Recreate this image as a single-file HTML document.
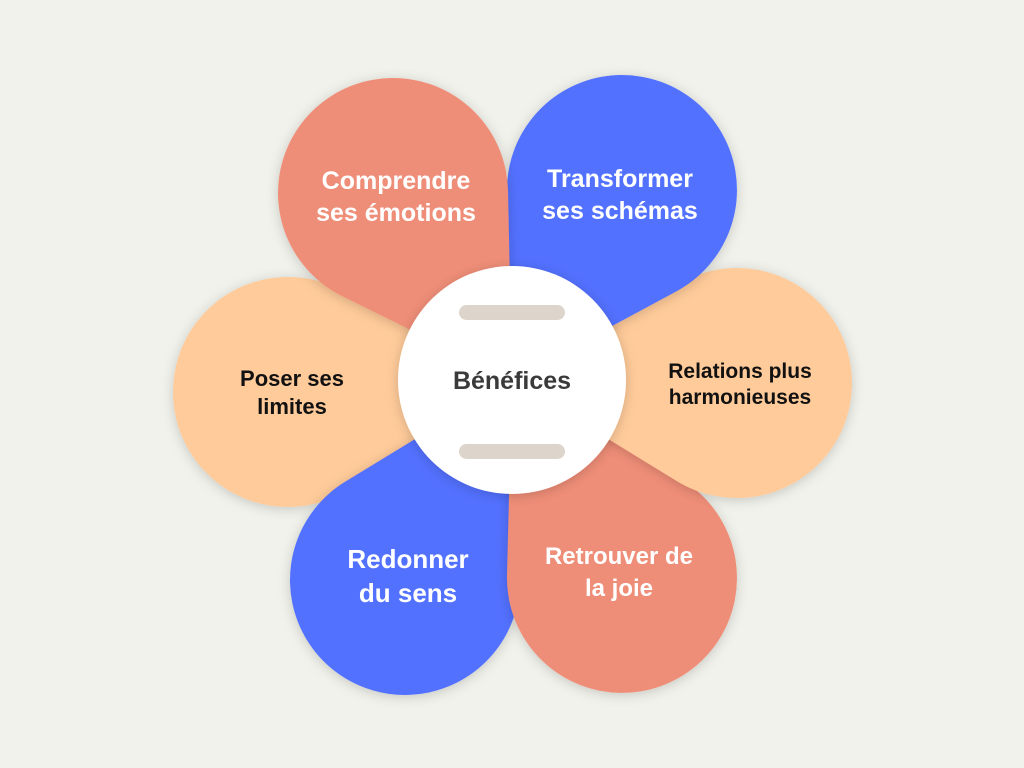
<!DOCTYPE html>
<html><head><meta charset="utf-8"><style>
html,body{margin:0;padding:0;background:#F2F2EC;}
svg{display:block}
</style></head><body>
<svg id="s" width="1024" height="768" viewBox="0 0 1024 768" xmlns="http://www.w3.org/2000/svg">
<defs><filter id="sh" x="-30%" y="-30%" width="160%" height="160%"><feDropShadow dx="0" dy="2" stdDeviation="6" flood-color="#000" flood-opacity="0.18"/></filter></defs>
<g id="petals"></g>
<circle cx="512" cy="380" r="114" fill="#fff" filter="url(#sh)"/>
<rect x="459" y="305" width="106" height="15" rx="7.5" fill="#DDD5CC"/>
<rect x="459" y="444" width="106" height="15" rx="7.5" fill="#DDD5CC"/>
<g font-family="Liberation Sans, sans-serif" font-weight="bold" text-anchor="middle">
<text x="512" y="389" font-size="25" fill="#3a3a3a">Bénéfices</text>
<text x="396" y="189" font-size="25" fill="#fff">Comprendre</text>
<text x="396" y="221" font-size="25" fill="#fff">ses émotions</text>
<text x="620" y="187" font-size="25" fill="#fff">Transformer</text>
<text x="620" y="219" font-size="25" fill="#fff">ses schémas</text>
<text x="740" y="378" font-size="21" fill="#111">Relations plus</text>
<text x="740" y="404" font-size="21" fill="#111">harmonieuses</text>
<text x="292" y="386" font-size="22" fill="#111">Poser ses</text>
<text x="292" y="414" font-size="22" fill="#111">limites</text>
<text x="408" y="568" font-size="26" fill="#fff">Redonner</text>
<text x="408" y="602" font-size="26" fill="#fff">du sens</text>
<text x="619" y="564" font-size="24" fill="#fff">Retrouver de</text>
<text x="619" y="596" font-size="24" fill="#fff">la joie</text>
</g>
</svg>
<script>
(function(){
var cx=512,cy=380,r=115;
var P=[[288,392,'#FFCB9A'],[405,580,'#5271FF'],[622,578,'#EF8E78'],[737,383,'#FFCB9A'],[622,190,'#5271FF'],[393,193,'#EF8E78']];
var g=document.getElementById('petals'),ns='http://www.w3.org/2000/svg',h='';
P.forEach(function(p){
 var dx=cx-p[0],dy=cy-p[1],d=Math.hypot(dx,dy),a=Math.atan2(dy,dx),b=Math.acos(r/d);
 var x1=p[0]+r*Math.cos(a+b),y1=p[1]+r*Math.sin(a+b),x2=p[0]+r*Math.cos(a-b),y2=p[1]+r*Math.sin(a-b);
 h+='<path filter="url(#sh)" fill="'+p[2]+'" d="M'+cx+' '+cy+' L'+x1.toFixed(1)+' '+y1.toFixed(1)+' A'+r+' '+r+' 0 1 1 '+x2.toFixed(1)+' '+y2.toFixed(1)+' Z"/>';
});
g.innerHTML=h;
})();
</script>
</body></html>
